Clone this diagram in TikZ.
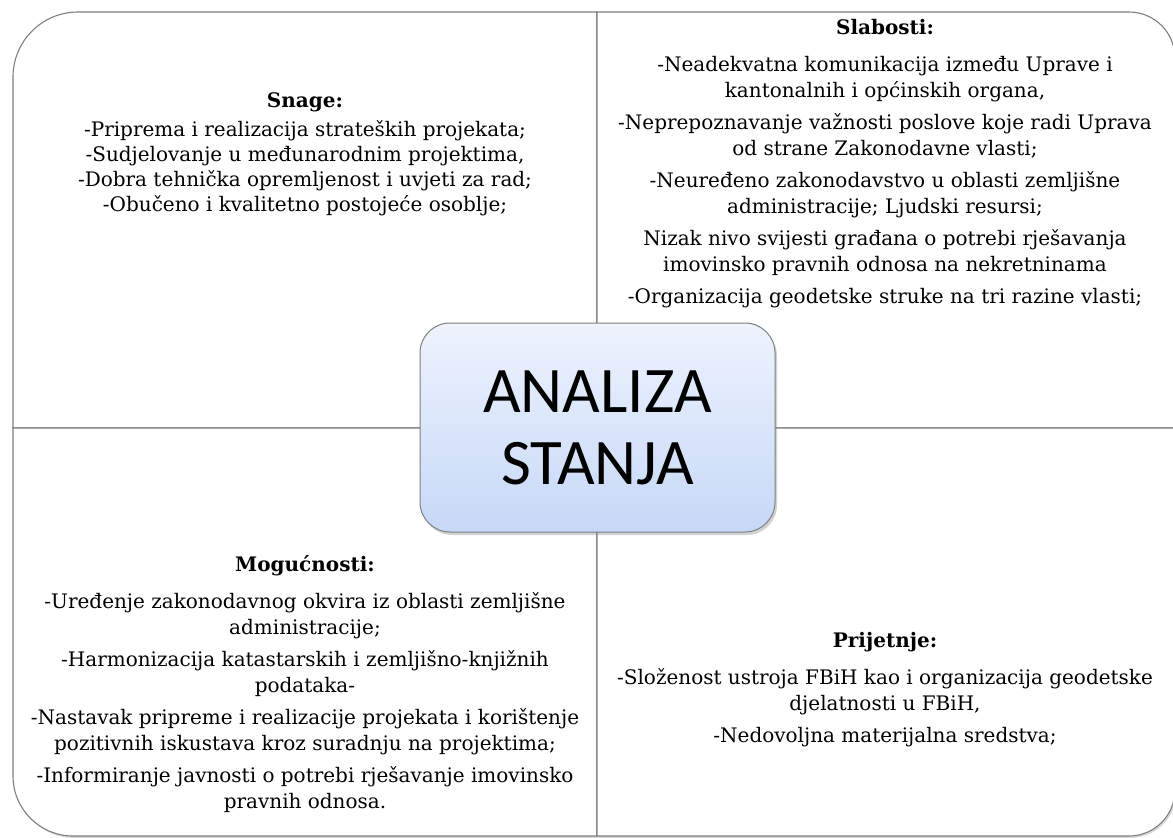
\documentclass[tikz,border=0pt]{standalone}
\usepackage{fontspec}
\setmainfont{DejaVu Serif}
\newfontfamily\boxfont{Carlito}
\usetikzlibrary{shadows}
\definecolor{framegray}{HTML}{7F7F7F}
\definecolor{boxtop}{HTML}{EEF3FD}
\definecolor{boxbottom}{HTML}{C6D8F7}
\tikzset{%
    quad/.style={draw=framegray,line width=1.1pt,fill=white,
        drop shadow={opacity=0.3,shadow xshift=1.5pt,shadow yshift=-2pt}},
    quadtxt/.style={align=center,inner sep=0pt,
        font=\fontsize{20}{26}\selectfont}
}

\begin{document}
\begin{tikzpicture}[x=1pt,y=-1pt,
            centre/.style={draw=framegray,line width=1pt,rounded corners=30pt,
                top color=boxtop,bottom color=boxbottom,
                minimum width=355pt,minimum height=209pt,
                align=center,font=\boxfont\fontsize{65}{72}\selectfont,
                drop shadow={opacity=0.35,shadow xshift=2pt,shadow yshift=-3pt}}
            ]
            \useasboundingbox (0,0) rectangle (1173,838);
            \fill[white] (0,0) rectangle (1173,838);
            % the four fields
            \draw[quad] (597,428) -- (13,428) -- (13,77) arc[start angle=180,end angle=270,radius=65] -- (597,12) -- cycle;
            \draw[quad] (597,12) -- (1129,12) arc[start angle=270,end angle=360,radius=46] -- (1175,428) -- (597,428) -- cycle;
            \draw[quad] (13,428) -- (13,776) arc[start angle=180,end angle=90,radius=60] -- (597,836) -- (597,428) -- cycle;
            \draw[quad] (597,428) -- (1175,428) -- (1175,790) arc[start angle=0,end angle=90,radius=46] -- (597,836) -- cycle;
            % texts
            \node[quadtxt] (snage) at (305,154) {\textbf{Snage:}\\[3pt]
                -Priprema i realizacija strateških projekata;\\[-1pt]
                -Sudjelovanje u međunarodnim projektima,\\[-1pt]
                -Dobra tehnička opremljenost i uvjeti za rad;\\[-1pt]
                -Obučeno i kvalitetno postojeće osoblje;};
            \node[quadtxt] (slabosti) at (885,163.5) {\textbf{Slabosti:}\\[11pt]
                -Neadekvatna komunikacija između Uprave i\\
                kantonalnih i općinskih organa,\\[6pt]
                -Neprepoznavanje važnosti poslove koje radi Uprava\\
                od strane Zakonodavne vlasti;\\[6pt]
                -Neuređeno zakonodavstvo u oblasti zemljišne\\
                administracije; Ljudski resursi;\\[6pt]
                Nizak nivo svijesti građana o potrebi rješavanja\\
                imovinsko pravnih odnosa na nekretninama\\[6pt]
                -Organizacija geodetske struke na tri razine vlasti;};
            \node[quadtxt] (mogucnosti) at (305,684) {\textbf{Mogućnosti:}\\[11pt]
                -Uređenje zakonodavnog okvira iz oblasti zemljišne\\
                administracije;\\[6pt]
                -Harmonizacija katastarskih i zemljišno-knjižnih\\
                podataka-\\[6pt]
                -Nastavak pripreme i realizacije projekata i korištenje\\
                pozitivnih iskustava kroz suradnju na projektima;\\[6pt]
                -Informiranje javnosti o potrebi rješavanje imovinsko\\
                pravnih odnosa.};
            \node[quadtxt] (prijetnje) at (885,690) {\textbf{Prijetnje:}\\[11pt]
                -Složenost ustroja FBiH kao i organizacija geodetske\\
                djelatnosti u FBiH,\\[6pt]
                -Nedovoljna materijalna sredstva;};
            % centre
            \node[centre] (analiza) at (597.5,427.5) {ANALIZA\\STANJA};
\end{tikzpicture}
\end{document}
